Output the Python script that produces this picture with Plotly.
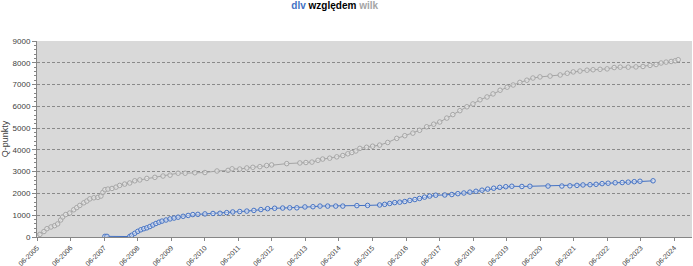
import plotly.graph_objects as go
import pandas as pd

# ---- data (decimal year, Q-points) ----
wilk_year = [2005.41, 2005.50, 2005.62, 2005.71, 2005.83, 2005.94, 2006.03, 2006.12, 2006.18, 2006.27,
             2006.39, 2006.51, 2006.60, 2006.69, 2006.81, 2006.90, 2006.99, 2007.11, 2007.23, 2007.32,
             2007.38, 2007.44, 2007.53, 2007.65, 2007.77, 2007.88, 2008.03, 2008.18, 2008.33, 2008.48,
             2008.69, 2008.93, 2009.17, 2009.38, 2009.62, 2009.83, 2010.12, 2010.42, 2010.78, 2011.11,
             2011.23, 2011.46, 2011.67, 2011.85, 2012.06, 2012.26, 2012.41, 2012.86, 2013.25, 2013.43,
             2013.61, 2013.79, 2013.93, 2014.14, 2014.35, 2014.53, 2014.68, 2014.80, 2014.92, 2015.04,
             2015.24, 2015.42, 2015.63, 2015.87, 2016.14, 2016.38, 2016.62, 2016.82, 2017.03, 2017.24,
             2017.42, 2017.63, 2017.81, 2018.02, 2018.23, 2018.41, 2018.62, 2018.83, 2019.01, 2019.22,
             2019.43, 2019.61, 2019.81, 2020.02, 2020.20, 2020.41, 2020.71, 2021.01, 2021.22, 2021.40,
             2021.60, 2021.81, 2021.99, 2022.20, 2022.41, 2022.62, 2022.80, 2023.04, 2023.27, 2023.48,
             2023.69, 2023.87, 2024.02, 2024.17, 2024.32, 2024.44, 2024.53]
wilk_q = [50, 120, 250, 380, 460, 520, 600, 780, 920, 1030,
          1100, 1250, 1350, 1450, 1570, 1650, 1750, 1800, 1820, 1880,
          2050, 2170, 2200, 2230, 2290, 2370, 2430, 2480, 2580, 2620,
          2690, 2740, 2800, 2840, 2930, 2930, 2950, 2960, 3030, 3060,
          3130, 3120, 3170, 3200, 3230, 3280, 3310, 3370, 3400, 3420,
          3440, 3520, 3580, 3620, 3680, 3740, 3820, 3880, 3950, 4070,
          4120, 4170, 4220, 4340, 4530, 4650, 4770, 4900, 5060, 5180,
          5280, 5460, 5620, 5800, 5980, 6110, 6300, 6430, 6570, 6740,
          6880, 6980, 7100, 7200, 7300, 7350, 7390, 7440, 7520, 7580,
          7620, 7660, 7680, 7700, 7720, 7780, 7800, 7800, 7810, 7830,
          7880, 7920, 7990, 8030, 8060, 8090, 8140]

dlv_year = [2007.44, 2007.50, 2008.18, 2008.24, 2008.33, 2008.42, 2008.51, 2008.60, 2008.69, 2008.78,
            2008.87, 2008.96, 2009.05, 2009.14, 2009.26, 2009.38, 2009.50, 2009.62, 2009.77, 2009.92,
            2010.06, 2010.21, 2010.42, 2010.66, 2010.87, 2011.07, 2011.25, 2011.46, 2011.67, 2011.88,
            2012.09, 2012.29, 2012.50, 2012.74, 2012.95, 2013.16, 2013.40, 2013.64, 2013.85, 2014.08,
            2014.32, 2014.53, 2014.95, 2015.27, 2015.63, 2015.78, 2015.93, 2016.08, 2016.23, 2016.38,
            2016.53, 2016.68, 2016.82, 2016.97, 2017.12, 2017.30, 2017.57, 2017.78, 2017.96, 2018.14,
            2018.32, 2018.50, 2018.68, 2018.85, 2019.03, 2019.21, 2019.39, 2019.57, 2019.87, 2020.11,
            2020.65, 2021.06, 2021.30, 2021.51, 2021.69, 2021.90, 2022.08, 2022.26, 2022.44, 2022.65,
            2022.86, 2023.04, 2023.22, 2023.39, 2023.78]
dlv_q = [30, 30, 20, 80, 170, 260, 330, 380, 420, 480,
         550, 620, 680, 730, 780, 830, 870, 910, 950, 990,
         1030, 1040, 1060, 1080, 1090, 1120, 1150, 1170, 1190, 1220,
         1260, 1300, 1320, 1330, 1340, 1340, 1380, 1390, 1420, 1420,
         1420, 1420, 1440, 1450, 1470, 1500, 1540, 1580, 1600, 1630,
         1680, 1720, 1770, 1830, 1880, 1920, 1930, 1950, 1990, 2020,
         2060, 2100, 2150, 2200, 2240, 2280, 2310, 2330, 2320, 2330,
         2340, 2340, 2350, 2370, 2390, 2400, 2420, 2450, 2470, 2490,
         2500, 2520, 2540, 2560, 2580]

tick_years = list(range(2005, 2025))
tick_labels = ["06-%d" % y for y in tick_years]


def to_date(y):
    year = int(y)
    return pd.Timestamp(year, 1, 1) + pd.Timedelta(days=(y - year) * 365.25)


BLUE = "#4472c4"
GRAY = "#a5a5a5"
FONT = "Liberation Sans, Arial, sans-serif"

fig = go.Figure()
fig.add_trace(go.Scatter(
    x=[to_date(v) for v in wilk_year], y=wilk_q, mode="lines+markers", name="wilk",
    line=dict(color=GRAY, width=1),
    marker=dict(symbol="circle", size=4.5, color="rgba(235,235,235,0.6)",
                line=dict(color=GRAY, width=1)),
))
fig.add_trace(go.Scatter(
    x=[to_date(v) for v in dlv_year], y=dlv_q, mode="lines+markers", name="dlv",
    line=dict(color=BLUE, width=1),
    marker=dict(symbol="circle", size=4.5, color="rgba(225,232,246,0.6)",
                line=dict(color=BLUE, width=1)),
))

fig.update_layout(
    width=693, height=266,
    margin=dict(l=37, r=1, t=41, b=29, autoexpand=False),
    paper_bgcolor="white", plot_bgcolor="#d9d9d9",
    showlegend=False,
    font=dict(family=FONT, size=8, color="#404040"),
    title=dict(
        text="<b><span style='color:%s'>dlv</span> <span style='color:#000000'>względem</span> "
             "<span style='color:%s'>wilk</span></b>" % (BLUE, GRAY),
        x=0.483, xref="container", xanchor="center",
        y=1 - 5.5 / 266, yref="container", yanchor="middle",
        font=dict(family=FONT, size=10),
    ),
    xaxis=dict(
        type="date", automargin=False,
        range=[pd.Timestamp(2005, 6, 1), pd.Timestamp(2024, 12, 10)],
        tickvals=[pd.Timestamp(y, 6, 1) for y in tick_years],
        ticktext=tick_labels,
        tickangle=-45,
        ticks="outside", ticklen=3, tickcolor="#868686",
        showline=True, linecolor="#868686", linewidth=1,
        showgrid=False, zeroline=False,
        tickfont=dict(size=7, color="#404040"),
    ),
    yaxis=dict(
        range=[0, 9000], dtick=1000, tick0=0, automargin=False,
        ticks="outside", ticklen=4, tickcolor="#868686",
        minor=dict(dtick=200, ticks="outside", ticklen=2, tickcolor="#868686", showgrid=False),
        showline=True, linecolor="#868686", linewidth=1,
        showgrid=True, gridcolor="#8a8a8a", gridwidth=1, griddash="3px,2px",
        zeroline=False,
        tickfont=dict(size=8, color="#404040"),
        title=dict(text="Q-punkty", font=dict(size=9, color="#404040"), standoff=6),
    ),
)

fig.write_html("out.html")
